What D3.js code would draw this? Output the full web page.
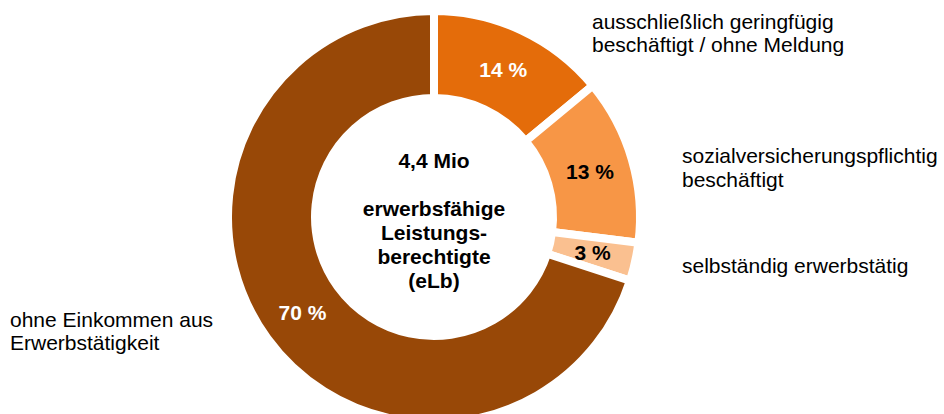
<!DOCTYPE html>
<html>
<head>
<meta charset="utf-8">
<script src="https://cdn.jsdelivr.net/npm/d3@7"></script>
<style>
  body { margin: 0; background: #fff; }
  svg { display: block; font-family: "Liberation Sans", Arial, sans-serif; }
</style>
</head>
<body>
<svg id="chart" width="944" height="414"></svg>
<script>
// Anteile der eLb nach Erwerbsstatus (im Uhrzeigersinn ab 12 Uhr)
const categories = [
  'ausschließlich geringfügig beschäftigt / ohne Meldung',
  'sozialversicherungspflichtig beschäftigt',
  'selbständig erwerbstätig',
  'ohne Einkommen aus Erwerbstätigkeit'
];
const shares = [14, 13, 3, 70];
const colors = ['#e46c0a', '#f79646', '#fac090', '#984807'];
const valueColors = ['#fff', '#000', '#000', '#fff'];
const labelLines = [
  ['ausschließlich geringfügig', 'beschäftigt / ohne Meldung'],
  ['sozialversicherungspflichtig', 'beschäftigt'],
  ['selbständig erwerbstätig'],
  ['ohne Einkommen aus', 'Erwerbstätigkeit']
];
const centerLines = ['4,4 Mio', '', 'erwerbsfähige', 'Leistungs-', 'berechtigte', '(eLb)'];

const width = 944;
const height = 414;
const cx = 434;
const cy = 217;
const outerR = 206;
const innerR = 119;

// Lage der Beschriftungen ausserhalb des Rings
const labelPos = [
  { x: 592, y: 29, lh: 23 },
  { x: 682, y: 163, lh: 24 },
  { x: 682, y: 273, lh: 23 },
  { x: 10, y: 327, lh: 23 }
];

const svg = d3.select('#chart');

const pie = d3.pie().sort(null).value(d => d);
const arcs = pie(shares);

const arc = d3.arc()
  .innerRadius(innerR)
  .outerRadius(outerR);
const labelArc = d3.arc()
  .innerRadius((innerR + outerR) / 2)
  .outerRadius((innerR + outerR) / 2);

const ring = svg.append('g')
  .attr('transform', `translate(${cx},${cy})`);

ring.selectAll('path')
  .data(arcs)
  .join('path')
  .attr('d', arc)
  .attr('fill', (d, i) => colors[i])
  .attr('stroke', '#fff')
  .attr('stroke-width', 8)
  .attr('stroke-linejoin', 'miter');

// Prozentwerte
ring.selectAll('text.value')
  .data(arcs)
  .join('text')
  .attr('class', 'value')
  .attr('x', d => labelArc.centroid(d)[0])
  .attr('y', d => labelArc.centroid(d)[1])
  .attr('dy', '0.35em')
  .attr('text-anchor', 'middle')
  .attr('font-size', 21)
  .attr('font-weight', 'bold')
  .attr('fill', (d, i) => valueColors[i])
  .text(d => d.data + ' %');

// Mitte
const center = svg.append('text')
  .attr('text-anchor', 'middle')
  .attr('font-size', 21)
  .attr('font-weight', 'bold')
  .attr('fill', '#000');
center.selectAll('tspan')
  .data(centerLines)
  .join('tspan')
  .attr('x', cx)
  .attr('y', (d, i) => i === 0 ? 168 : 216 + (i - 2) * 24)
  .text(d => d);

// Kategorien
const labels = svg.append('g')
  .attr('font-size', 21)
  .attr('fill', '#000');
labelLines.forEach((lines, i) => {
  const t = labels.append('text');
  t.selectAll('tspan')
    .data(lines)
    .join('tspan')
    .attr('x', labelPos[i].x)
    .attr('y', (d, j) => labelPos[i].y + j * labelPos[i].lh)
    .text(d => d);
});
</script>
</body>
</html>
